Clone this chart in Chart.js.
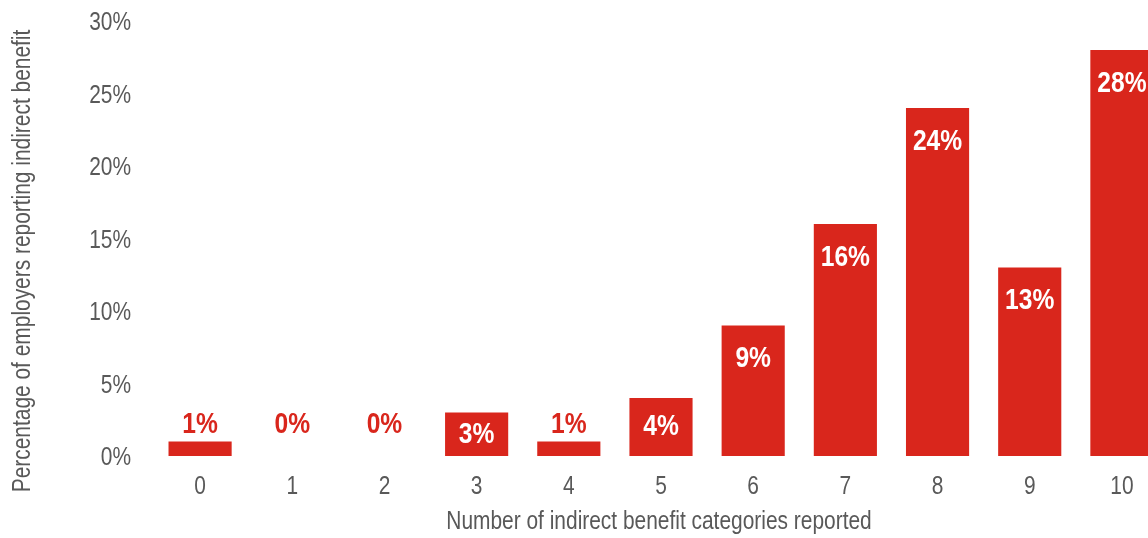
<!DOCTYPE html>
<html>
<head>
<meta charset="utf-8">
<script src="https://cdn.jsdelivr.net/npm/chart.js@4/dist/chart.umd.min.js"></script>
<style>
  html, body { margin: 0; padding: 0; background: #fff; overflow: hidden; }
  #wrap { width: 1168px; height: 538px; position: relative; }
</style>
</head>
<body>
<div id="wrap"><canvas id="myChart"></canvas></div>
<script>
// data
const categories = ['0', '1', '2', '3', '4', '5', '6', '7', '8', '9', '10'];
const shares = [1, 0, 0, 3, 1, 4, 9, 16, 24, 13, 28];
const yTicks = [0, 5, 10, 15, 20, 25, 30];
const xTitle = 'Number of indirect benefit categories reported';
const yTitle = 'Percentage of employers reporting indirect benefit';

// the original uses a narrow font; Liberation Sans squeezed to 82% stands in for it
const FONT = '"Liberation Sans", Arial, sans-serif';
const SQUEEZE = 0.82;
const RED = '#d9261c';
const GREY = '#595959';

function narrowText(ctx, text, x, y, opts) {
    ctx.save();
    ctx.font = opts.font;
    ctx.fillStyle = opts.color;
    ctx.textAlign = opts.align || 'center';
    ctx.textBaseline = 'middle';
    ctx.translate(x, y);
    if (opts.rotate) ctx.rotate(opts.rotate);
    ctx.scale(SQUEEZE, 1);
    ctx.fillText(text, 0, 0);
    ctx.restore();
}

// axis texts and value labels drawn by hand so they can be narrow
const narrowLabels = {
    id: 'narrowLabels',
    afterDatasetsDraw(chart) {
        const ctx = chart.ctx;
        const xs = chart.scales.x;
        const ys = chart.scales.y;
        const base = ys.getPixelForValue(0);
        const tickFont = '25.5px ' + FONT;

        yTicks.forEach(v => {
            narrowText(ctx, v + '%', 131, ys.getPixelForValue(v) + 2, { font: tickFont, color: GREY, align: 'right' });
        });
        categories.forEach((c, i) => {
            narrowText(ctx, c, xs.getPixelForValue(i), base + 31, { font: tickFont, color: GREY });
        });
        narrowText(ctx, xTitle, 659, 522, { font: tickFont, color: GREY });
        narrowText(ctx, yTitle, 23, 261, { font: tickFont, color: GREY, rotate: -Math.PI / 2 });

        const meta = chart.getDatasetMeta(0);
        meta.data.forEach((bar, i) => {
            const v = shares[i];
            let ty, col;
            if (v >= 3) {
                col = '#ffffff';
                ty = Math.min(bar.y + 33.5, (bar.y + base) / 2);
            } else {
                col = RED;
                ty = base - 31;
            }
            narrowText(ctx, v + '%', bar.x, ty, { font: 'bold 30px ' + FONT, color: col });
        });
    }
};

var ctx = document.getElementById('myChart').getContext('2d');
var chart = new Chart(ctx, {
    type: 'bar',
    data: {
        labels: categories,
        datasets: [
            {
                data: shares,
                backgroundColor: RED,
                borderWidth: 0,
                barPercentage: 0.685,
                categoryPercentage: 1,
            },
        ],
    },
    options: {
        responsive: true,
        maintainAspectRatio: false,
        animation: false,
        layout: { padding: { top: 21, right: 0, left: 0, bottom: 0 } },
        plugins: {
            legend: { display: false },
            tooltip: { enabled: false },
        },
        scales: {
            x: {
                grid: { display: false, drawTicks: false },
                border: { display: false },
                ticks: { display: false },
                afterFit(s) { s.height = 82; },
            },
            y: {
                min: 0,
                max: 30,
                grid: { display: false, drawTicks: false },
                border: { display: false },
                ticks: { display: false, stepSize: 5 },
                afterFit(s) { s.width = 154; },
            },
        },
    },
    plugins: [narrowLabels],
});
</script>
</body>
</html>
